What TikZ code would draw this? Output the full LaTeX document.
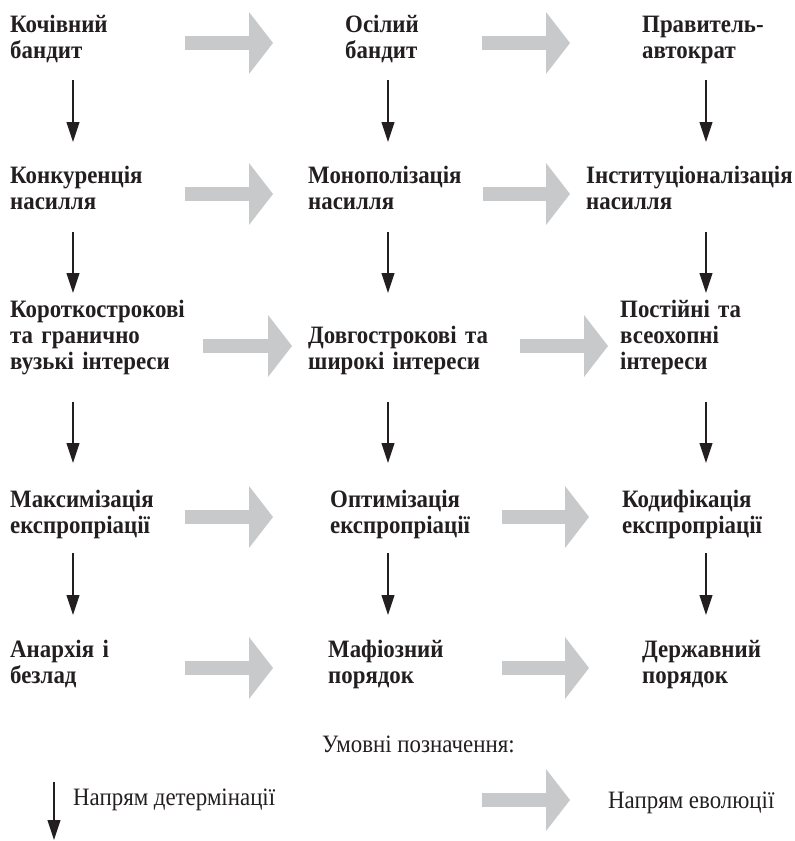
\documentclass[tikz,border=0pt]{standalone}
\usepackage{fontspec}
\setmainfont{Liberation Serif}[FakeStretch=0.915]
\usepackage{tikz}
\usetikzlibrary{arrows.meta,calc}

\definecolor{inkblack}{RGB}{35,31,32}
\definecolor{evogray}{RGB}{200,201,202}

\tikzset{
  stage/.style={anchor=base west, inner sep=0pt, text width=230pt, align=left,
    font=\bfseries\fontsize{25}{26}\selectfont, text=inkblack},
  legtext/.style={anchor=base west, inner sep=0pt,
    font=\fontsize{25}{26}\selectfont, text=inkblack},
  det/.style={draw=inkblack, line width=1.1pt, -{Triangle[length=20pt,width=13pt]}},
  evo/.style={draw=evogray, line width=14pt,
    -{Triangle[length=24pt,width=62pt,line width=0pt]}},
}

\begin{document}
\begin{tikzpicture}[x=1pt, y=-1pt]

      \path[use as bounding box, fill=white] (0,0) rectangle (795,841);

      % columns of the determination arrows
      \coordinate (c1) at (73,0);
      \coordinate (c2) at (388,0);
      \coordinate (c3) at (706,0);

      \node[stage] (r1c1) at (10,32) {Кочівний\\бандит};
      \node[stage] (r1c2) at (345,32) {Осілий\\бандит};
      \node[stage] (r1c3) at (642,32) {Правитель-\\автократ};

      \node[stage] (r2c1) at (10,183) {Конкуренція\\насилля};
      \node[stage] (r2c2) at (308,183) {Монополізація\\насилля};
      \node[stage] (r2c3) at (586,183) {Інституціоналізація\\насилля};

      \node[stage] (r3c1) at (10,317) {Короткострокові\\та гранично\\вузькі інтереси};
      \node[stage] (r3c2) at (308,343) {Довгострокові та\\широкі інтереси};
      \node[stage] (r3c3) at (620,317) {Постійні та\\всеохопні\\інтереси};

      \node[stage] (r4c1) at (10,507) {Максимізація\\експропріації};
      \node[stage] (r4c2) at (330,507) {Оптимізація\\експропріації};
      \node[stage] (r4c3) at (622,507) {Кодифікація\\експропріації};

      \node[stage] (r5c1) at (10,657) {Анархія і\\безлад};
      \node[stage] (r5c2) at (328,657) {Мафіозний\\порядок};
      \node[stage] (r5c3) at (642,657) {Державний\\порядок};

      % determination
      \draw[det] ($(r1c1.base -| c1)+(0,48)$) -- ($(r2c1.base -| c1)+(0,-41)$);
      \draw[det] ($(r1c2.base -| c2)+(0,48)$) -- ($(r2c2.base -| c2)+(0,-41)$);
      \draw[det] ($(r1c3.base -| c3)+(0,48)$) -- ($(r2c3.base -| c3)+(0,-41)$);

      \draw[det] ($(r2c1.base -| c1)+(0,49)$) -- ($(r3c1.base -| c1)+(0,-24)$);
      \draw[det] ($(r2c2.base -| c2)+(0,49)$) -- ($(r3c2.base -| c2)+(0,-50)$);
      \draw[det] ($(r2c3.base -| c3)+(0,49)$) -- ($(r3c3.base -| c3)+(0,-24)$);

      \draw[det] ($(r3c1.base -| c1)+(0,85)$) -- ($(r4c1.base -| c1)+(0,-44)$);
      \draw[det] ($(r3c2.base -| c2)+(0,59)$) -- ($(r4c2.base -| c2)+(0,-44)$);
      \draw[det] ($(r3c3.base -| c3)+(0,85)$) -- ($(r4c3.base -| c3)+(0,-44)$);

      \draw[det] ($(r4c1.base -| c1)+(0,46)$) -- ($(r5c1.base -| c1)+(0,-42)$);
      \draw[det] ($(r4c2.base -| c2)+(0,46)$) -- ($(r5c2.base -| c2)+(0,-42)$);
      \draw[det] ($(r4c3.base -| c3)+(0,46)$) -- ($(r5c3.base -| c3)+(0,-42)$);

      % evolution
      \draw[evo] ($(r1c1.base west)+(175,11)$) -- ($(r1c2.base west)+(-72,11)$);
      \draw[evo] ($(r1c2.base west)+(137,11)$) -- ($(r1c3.base west)+(-72,11)$);
      \draw[evo] ($(r2c1.base west)+(175,11)$) -- ($(r2c2.base west)+(-35,11)$);
      \draw[evo] ($(r2c2.base west)+(175,11)$) -- ($(r2c3.base west)+(-16,11)$);
      \draw[evo] ($(r3c1.base west)+(193,29)$) -- ($(r3c2.base west)+(-16,3)$);
      \draw[evo] ($(r3c2.base west)+(212,3)$) -- ($(r3c3.base west)+(-12,29)$);
      \draw[evo] ($(r4c1.base west)+(175,10)$) -- ($(r4c2.base west)+(-57,10)$);
      \draw[evo] ($(r4c2.base west)+(172,10)$) -- ($(r4c3.base west)+(-33,10)$);
      \draw[evo] ($(r5c1.base west)+(175,11)$) -- ($(r5c2.base west)+(-55,11)$);
      \draw[evo] ($(r5c2.base west)+(174,11)$) -- ($(r5c3.base west)+(-53,11)$);

      % legend
      \node[legtext] (ltitle) at (322,752) {Умовні позначення:};
      \node[legtext] (ldet) at (73,805) {Напрям детермінації};
      \node[legtext] (levo) at (608,808) {Напрям еволюції};
      \draw[det] ($(ldet.base west)+(-19,-23)$) -- ($(ldet.base west)+(-19,35)$);
      \draw[evo] ($(levo.base west)+(-126,-8)$) -- ($(levo.base west)+(-38,-8)$);

\end{tikzpicture}
\end{document}
